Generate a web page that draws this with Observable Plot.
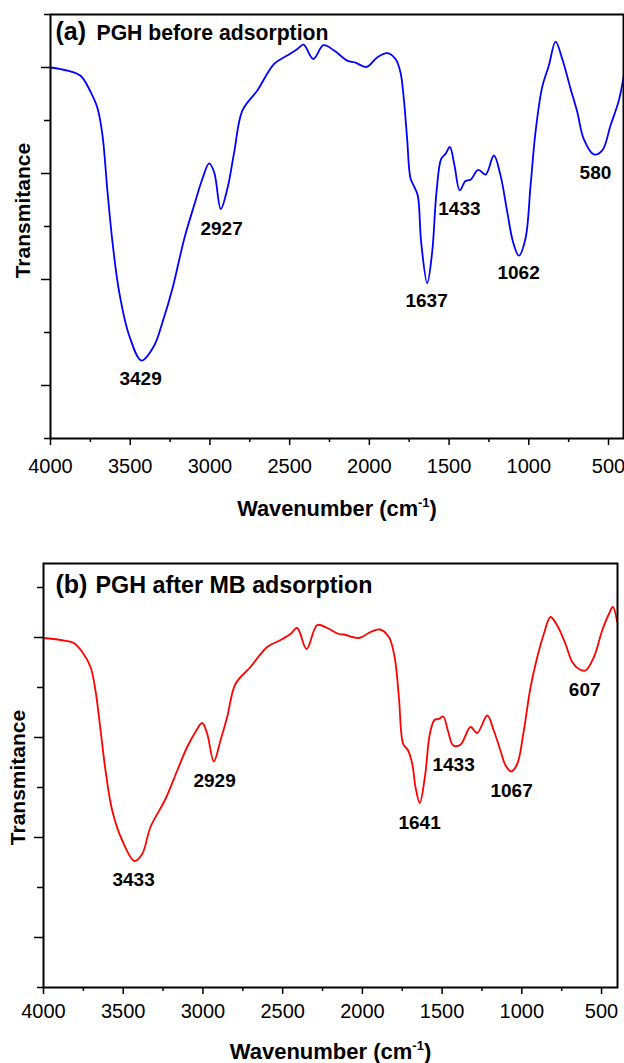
<!DOCTYPE html>
<html><head><meta charset="utf-8">
<script src="https://cdn.jsdelivr.net/npm/d3@7"></script>
<script src="https://cdn.jsdelivr.net/npm/@observablehq/plot@0.6"></script>
<style>body{margin:0;background:#fff} svg{display:block}</style>
</head><body><div id="a"></div><div id="b"></div>
<script>
// ---- data: panel (a) PGH before adsorption ----
const wnA = [4000,3893,3810,3747,3705,3674,3642,3611,3569,3506,3429,3350,3298,3235,3161,3099,3046,3005,2973,2932,2890,2848,2796,2702,2597,2513,2451,2413,2352,2288,2221,2139,2087,2018,1951,1888,1836,1805,1784,1763,1742,1717,1696,1675,1637,1606,1579,1549,1522,1495,1466,1433,1397,1366,1317,1271,1219,1177,1135,1098,1062,1021,989,958,916,874,832,790,738,696,655,592,540,487,435,404];
const tA = [7.00,6.94,6.84,6.53,6.23,5.72,4.64,3.70,2.76,1.94,1.47,1.75,2.19,2.83,3.77,4.40,4.91,5.19,5.02,4.33,4.72,5.40,6.19,6.57,7.07,7.23,7.35,7.43,7.16,7.42,7.32,7.13,7.09,7.01,7.19,7.27,7.16,6.91,6.41,5.65,4.91,4.74,4.58,3.70,2.93,3.52,4.65,5.28,5.37,5.50,5.15,4.68,4.86,4.88,5.07,4.98,5.34,4.96,4.27,3.70,3.45,3.77,4.77,5.78,6.63,7.04,7.49,7.16,6.60,6.16,5.65,5.36,5.43,5.91,6.38,6.85];
const peakTextA = ["3429","2927","1637","1062","1433","580"];
const peakXA = [3435,2927,1641,1064,1435,582];
const peakYA = [1.13,3.96,2.60,3.13,4.34,5.02];

// ---- data: panel (b) PGH after MB adsorption ----
const wnB = [4000,3893,3810,3757,3705,3674,3642,3611,3569,3506,3429,3381,3329,3235,3161,3099,3047,3005,2973,2932,2890,2848,2796,2702,2597,2513,2451,2409,2350,2283,2221,2148,2116,2022,1949,1890,1834,1798,1771,1744,1715,1687,1667,1640,1608,1577,1548,1521,1493,1464,1430,1384,1322,1280,1217,1176,1134,1102,1067,1029,991,945,903,862,820,778,726,684,642,601,548,496,454,429,402];
const tB = [6.99,6.95,6.89,6.71,6.41,5.94,5.14,4.34,3.54,2.94,2.53,2.67,3.21,3.77,4.34,4.81,5.11,5.29,5.07,4.52,4.94,5.41,6.07,6.41,6.81,6.95,7.07,7.19,6.77,7.25,7.19,7.07,7.06,6.99,7.11,7.16,7.01,6.61,5.81,4.87,4.75,4.47,4.01,3.69,4.21,5.07,5.35,5.37,5.42,5.14,4.84,4.86,5.21,5.09,5.44,5.14,4.74,4.44,4.32,4.47,5.07,6.01,6.61,7.07,7.41,7.24,6.87,6.51,6.37,6.34,6.61,7.14,7.47,7.61,7.31];
const peakTextB = ["3433","2929","1641","1433","1067","607"];
const peakXB = [3435,2927,1641,1428,1064,606];
const peakYB = [2.16,4.14,3.30,4.46,3.94,5.96];

// ---- ticks & labels ----
const xMajor = [4000,3500,3000,2500,2000,1500,1000,500];
const xMinor = [3750,3250,2750,2250,1750,1250,750];
const yMajor = [1,3,5,7];
const yMinor = [0,2,4,6,8];
const xTitle = "Wavenumber (cm-1)";
const yTitle = "Transmitance";

const FONT = "'Liberation Sans', Arial, Helvetica, sans-serif";

function panel(o) {
  const data = o.wn.map((w, i) => ({w, t: o.t[i]}));
  const pk = o.pt.map((s, i) => ({s, x: o.px[i], y: o.py[i]}));
  const svg = Plot.plot({
    width: 624, height: o.height,
    marginTop: o.mt, marginBottom: o.mb, marginLeft: o.ml, marginRight: o.mr,
    style: {fontFamily: FONT, background: "white", color: "black"},
    x: {domain: [4000, o.xEnd]},
    y: {domain: [0, o.yEnd]},
    marks: [
      Plot.axisX(xMajor, {tickSize: 7, tickPadding: o.tickPad, fontSize: 20, strokeWidth: 1.5, label: null, tickFormat: d => String(d)}),
      Plot.axisX(xMinor, {tickSize: 4, fill: "none", strokeWidth: 1.5, label: null}),
      Plot.axisY(yMajor, {tickSize: 9, fill: "none", strokeWidth: 1.5, label: null}),
      Plot.axisY(yMinor, {tickSize: 6, fill: "none", strokeWidth: 1.5, label: null}),
      Plot.line(data, {x: "w", y: "t", stroke: o.color, strokeWidth: 1.8, curve: "catmull-rom"}),
      Plot.frame({stroke: "black", strokeWidth: 2}),
      Plot.text(pk, {x: "x", y: "y", text: "s", fontWeight: "bold", fontSize: 19, fill: "black"}),
      Plot.text([o.tag], {frameAnchor: "top-left", textAnchor: "start", lineAnchor: "bottom", dx: o.tagDx, dy: o.titleDy, fontSize: 25, fontWeight: "bold"}),
      Plot.text([o.title], {frameAnchor: "top-left", textAnchor: "start", lineAnchor: "bottom", dx: o.titleDx, dy: o.titleDy, fontSize: o.titleSize, fontWeight: "bold"}),
      Plot.text([o.ylabY], {y: d => d, frameAnchor: "left", textAnchor: "middle", lineAnchor: "middle", text: () => yTitle, rotate: -90, dx: o.ylabDx, fontSize: 21, fontWeight: "bold"}),
      Plot.text([xTitle], {frameAnchor: "bottom", lineAnchor: "bottom", dy: o.xlabDy, fontSize: o.xlabSize, fontWeight: "bold"})
    ]
  });
  // superscript for cm^-1
  svg.querySelectorAll("text").forEach(el => {
    if (el.textContent === xTitle) {
      el.textContent = "";
      const ns = "http://www.w3.org/2000/svg";
      const t1 = document.createElementNS(ns, "tspan"); t1.textContent = "Wavenumber (cm";
      const t2 = document.createElementNS(ns, "tspan"); t2.textContent = "-1"; t2.setAttribute("font-size", "13"); t2.setAttribute("dy", "-9");
      const t3 = document.createElementNS(ns, "tspan"); t3.textContent = ")"; t3.setAttribute("dy", "9");
      el.append(t1, t2, t3);
    }
  });
  return svg;
}

document.getElementById("a").append(panel({
  wn: wnA, t: tA, pt: peakTextA, px: peakXA, py: peakYA, color: "#0000ff",
  height: 530, mt: 14, mb: 92, ml: 50, mr: 1, xEnd: 406, yEnd: 8, tickPad: 13,
  tag: "(a)", title: "PGH before adsorption", tagDx: 5, titleDx: 46, titleDy: 25, titleSize: 21.2,
  ylabY: 4.30, ylabDx: -27, xlabDy: 77, xlabSize: 21.8
}));
document.getElementById("b").append(panel({
  wn: wnB, t: tB, pt: peakTextB, px: peakXB, py: peakYB, color: "#ff0000",
  height: 533, mt: 33, mb: 76, ml: 43, mr: 7, xEnd: 400, yEnd: 8.48, tickPad: 9,
  tag: "(b)", title: "PGH after MB adsorption", tagDx: 12, titleDx: 52, titleDy: 29, titleSize: 23.3,
  ylabY: 4.2, ylabDx: -25, xlabDy: 71, xlabSize: 22
}));
</script>
</body></html>
